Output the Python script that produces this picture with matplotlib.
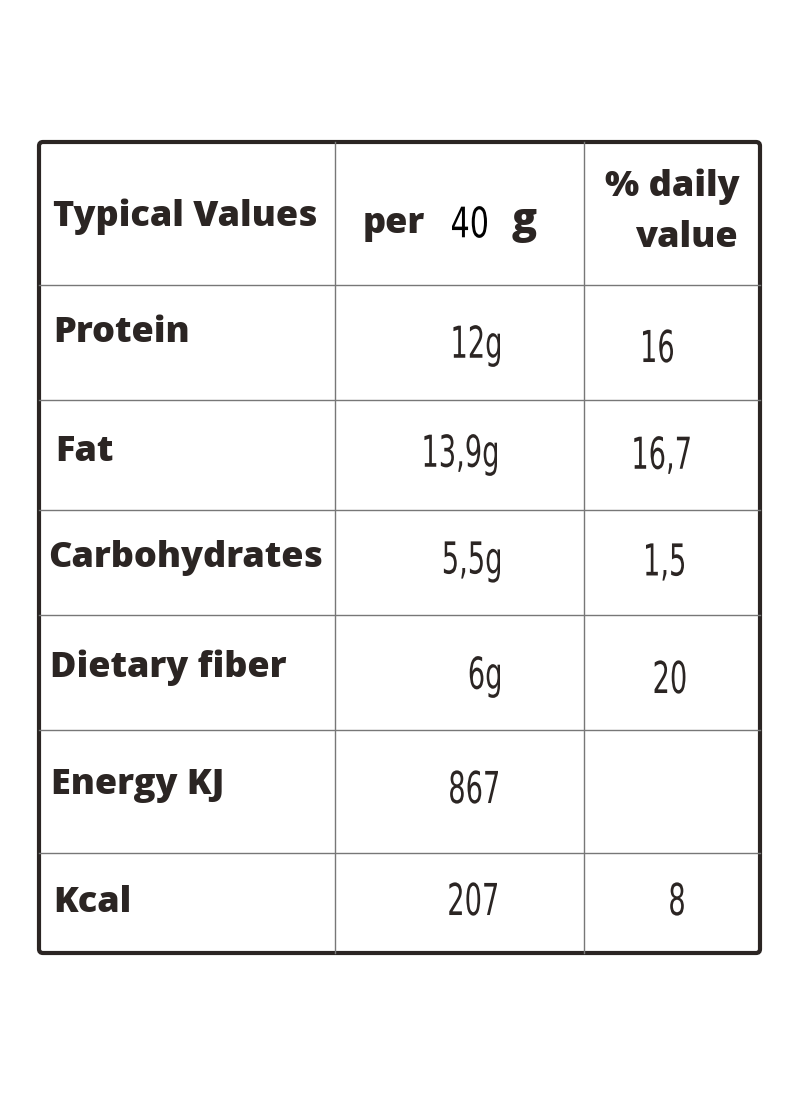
import matplotlib
matplotlib.use('Agg')
import matplotlib.pyplot as plt
from matplotlib.patches import FancyBboxPatch, PathPatch
from matplotlib.textpath import TextPath
from matplotlib.font_manager import FontProperties
from matplotlib.transforms import Affine2D

# table content
row_labels = ['Protein', 'Fat', 'Carbohydrates', 'Dietary fiber', 'Energy KJ', 'Kcal']
amounts = ['12', '13,9', '5,5', '6', '867', '207']
units = ['g', 'g', 'g', 'g', '', '']
daily = ['16', '16,7', '1,5', '20', '', '8']

# layout (pixels)
row_lines = [142, 285, 400, 510, 615, 730, 853, 953]
col_lines = [39, 335, 584, 760]
label_x = [53, 55, 48, 50, 51, 53]
label_y = [333, 452, 558, 668, 785, 903]
num_y = [346, 455, 562, 677, 787, 899]
amount_right = [500, 497, 500, 500, 498, 497]
daily_x = [658, 662, 665, 670, 0, 677]

ink = '#2b2523'
num_prop = FontProperties(family='DejaVu Sans')

fig = plt.figure(figsize=(8, 10.96), dpi=100)
ax = fig.add_axes([0, 0, 1, 1])
ax.set_xlim(0, 800)
ax.set_ylim(1096, 0)
ax.axis('off')


def narrow_text(x, y, s, ha='right', size=44, sx=0.62, color=ink):
    # condensed numerals: squeeze a text path horizontally
    tp = TextPath((0, 0), s, size=size, prop=num_prop)
    ext = tp.get_extents()
    w = ext.width * sx
    if ha == 'right':
        x0 = x - w
    elif ha == 'center':
        x0 = x - w / 2
    else:
        x0 = x
    cy = ext.y0 + ext.height / 2
    tr = Affine2D().translate(-ext.x0, -cy).scale(sx, -1).translate(x0, y)
    ax.add_patch(PathPatch(tr.transform_path(tp), fc=color, ec='none'))


for y in row_lines[1:-1]:
    ax.plot([col_lines[0], col_lines[-1]], [y, y], color='#777777', lw=1)
for x in col_lines[1:-1]:
    ax.plot([x, x], [row_lines[0], row_lines[-1]], color='#777777', lw=1)
ax.add_patch(FancyBboxPatch((col_lines[0], row_lines[0]), col_lines[-1] - col_lines[0],
                            row_lines[-1] - row_lines[0], boxstyle='round,pad=0,rounding_size=4',
                            fill=False, ec=ink, lw=3))

bold = dict(color=ink, fontsize=26, fontweight='heavy', family='Open Sans', va='center')
ax.text(53, 217, 'Typical Values', ha='left', **bold)
ax.text(363, 224, 'per', ha='left', **bold)
narrow_text(452, 222, '40', ha='left', size=42, sx=0.72, color='black')
ax.text(512, 222, 'g', ha='left', color=ink, fontsize=30, family='Open Sans',
        fontweight='heavy', va='center')
ax.text(672, 187, '% daily', ha='center', **bold)
ax.text(686, 238, 'value', ha='center', **bold)

for i, lab in enumerate(row_labels):
    ax.text(label_x[i], label_y[i], lab, ha='left', **bold)
    narrow_text(amount_right[i], num_y[i], amounts[i] + units[i], ha='right')
    if daily[i]:
        narrow_text(daily_x[i], num_y[i], daily[i], ha='center')

fig.savefig('out.png', dpi=100, facecolor='white')
